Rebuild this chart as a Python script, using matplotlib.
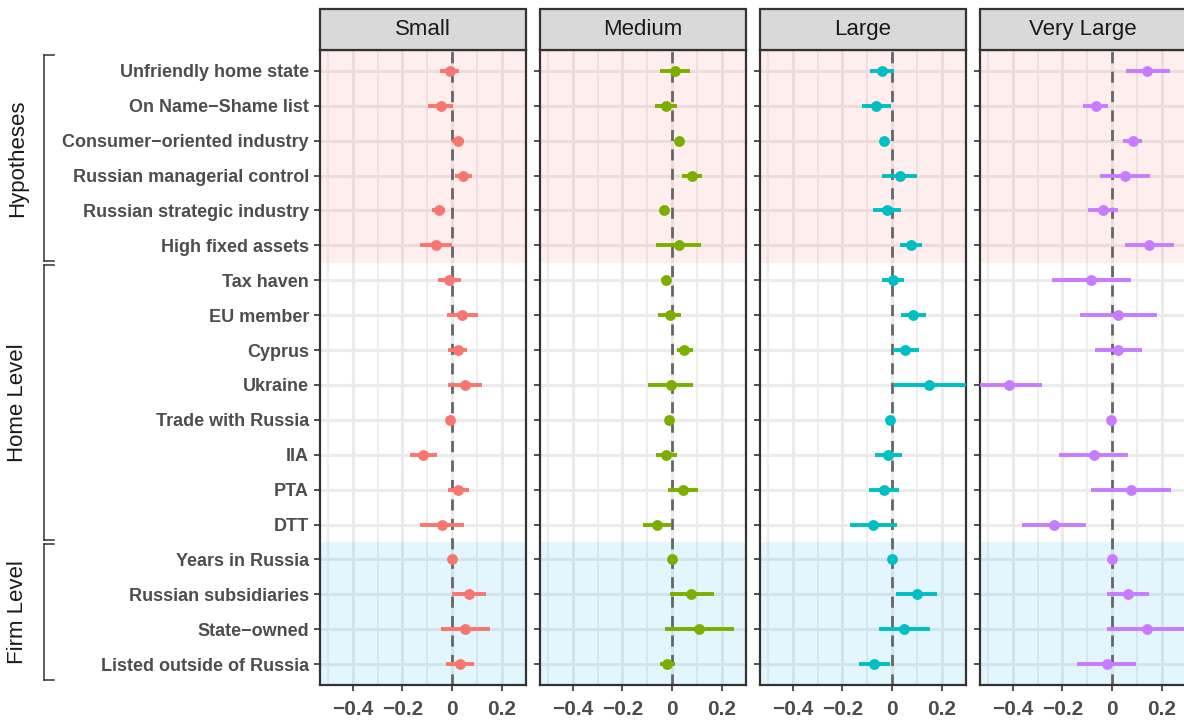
import matplotlib.pyplot as plt
from matplotlib.transforms import blended_transform_factory
from matplotlib.patches import Rectangle
from matplotlib.lines import Line2D

plt.rcParams["font.family"] = ["Liberation Sans", "DejaVu Sans"]

variables = [
    "Unfriendly home state", "On Name\u2212Shame list", "Consumer\u2212oriented industry",
    "Russian managerial control", "Russian strategic industry", "High fixed assets",
    "Tax haven", "EU member", "Cyprus", "Ukraine", "Trade with Russia", "IIA", "PTA", "DTT",
    "Years in Russia", "Russian subsidiaries", "State\u2212owned", "Listed outside of Russia",
]
groups = [("Hypotheses", 0, 5), ("Home Level", 6, 13), ("Firm Level", 14, 17)]
sizes = ["Small", "Medium", "Large", "Very Large"]
colors = ["#F8766D", "#7CAE00", "#00BFC4", "#C77CFF"]

small_est = [-0.009, -0.046, 0.025, 0.045, -0.053, -0.066,
             -0.012, 0.042, 0.024, 0.051, -0.008, -0.116, 0.026, -0.040,
             0.0, 0.069, 0.053, 0.031]
small_lo = [-0.050, -0.097, 0.000, 0.011, -0.081, -0.130,
            -0.058, -0.020, -0.015, -0.016, -0.012, -0.169, -0.016, -0.130,
            0.0, 0.000, -0.045, -0.024]
small_hi = [0.030, 0.004, 0.050, 0.081, -0.027, -0.002,
            0.035, 0.105, 0.062, 0.122, -0.004, -0.062, 0.069, 0.050,
            0.0, 0.138, 0.153, 0.088]

medium_est = [0.011, -0.023, 0.030, 0.080, -0.032, 0.027,
              -0.026, -0.008, 0.050, -0.005, -0.011, -0.024, 0.043, -0.061,
              0.0, 0.078, 0.110, -0.019]
medium_lo = [-0.050, -0.068, 0.026, 0.041, -0.036, -0.065,
             -0.043, -0.056, 0.018, -0.095, -0.015, -0.065, -0.015, -0.118,
             0.0, -0.009, -0.028, -0.050]
medium_hi = [0.073, 0.022, 0.034, 0.122, -0.028, 0.118,
             -0.010, 0.038, 0.083, 0.085, -0.007, 0.018, 0.104, -0.003,
             0.0, 0.169, 0.248, 0.012]

large_est = [-0.042, -0.065, -0.034, 0.031, -0.020, 0.076,
             0.003, 0.084, 0.054, 0.149, -0.008, -0.016, -0.032, -0.076,
             0.0, 0.099, 0.049, -0.073]
large_lo = [-0.088, -0.123, -0.038, -0.041, -0.077, 0.032,
            -0.042, 0.035, 0.004, 0.007, -0.012, -0.070, -0.093, -0.168,
            0.0, 0.015, -0.054, -0.135]
large_hi = [0.006, -0.004, -0.030, 0.101, 0.038, 0.120,
            0.050, 0.135, 0.107, 0.300, -0.004, 0.039, 0.030, 0.018,
            0.0, 0.183, 0.152, -0.009]

vlarge_est = [0.142, -0.064, 0.083, 0.051, -0.035, 0.149,
              -0.084, 0.026, 0.026, -0.414, -0.004, -0.073, 0.077, -0.235,
              0.0, 0.064, 0.140, -0.022]
vlarge_lo = [0.058, -0.116, 0.045, -0.050, -0.097, 0.051,
             -0.242, -0.129, -0.069, -0.560, -0.008, -0.212, -0.084, -0.364,
             0.0, -0.020, -0.019, -0.143]
vlarge_hi = [0.232, -0.016, 0.121, 0.153, 0.026, 0.250,
             0.076, 0.183, 0.121, -0.281, 0.000, 0.065, 0.239, -0.106,
             0.0, 0.148, 0.320, 0.096]

estimates = [small_est, medium_est, large_est, vlarge_est]
lower = [small_lo, medium_lo, large_lo, vlarge_lo]
upper = [small_hi, medium_hi, large_hi, vlarge_hi]

W, H = 1184, 726
fig = plt.figure(figsize=(W / 100, H / 100), dpi=100)

panel_left = [320, 540, 760, 980]
panel_w = 206
panel_top, panel_bot = 50, 685
strip_h = 41
n = len(variables)
rows = list(range(n))

axes = []
for k, size in enumerate(sizes):
    ax = fig.add_axes([panel_left[k] / W, 1 - panel_bot / H,
                       panel_w / W, (panel_bot - panel_top) / H])
    ax.set_xlim(-0.532, 0.298)
    ax.set_ylim(n - 1 + 0.6, -0.6)
    ax.set_axisbelow(True)

    # grid drawn first, group shading laid over it
    ax.set_xticks([-0.4, -0.2, 0, 0.2])
    ax.set_xticks([-0.5, -0.3, -0.1, 0.1], minor=True)
    ax.set_yticks(rows)
    ax.grid(True, which="major", color="#EBEBEB", lw=2.2)
    ax.grid(True, which="minor", axis="x", color="#EBEBEB", lw=1.2)
    ax.axhspan(-0.6, 5.5, color="#F8766D", alpha=0.12, lw=0, zorder=1)
    ax.axhspan(13.5, n - 1 + 0.6, color="#00B0F0", alpha=0.11, lw=0, zorder=1)

    ax.axvline(0, color="#666666", lw=2, ls=(0, (4, 3)), zorder=2)
    ax.hlines(rows, lower[k], upper[k], color=colors[k], lw=2.8, zorder=3)
    ax.plot(estimates[k], rows, "o", color=colors[k], ms=7.8, mec="none", zorder=4)

    ax.set_xticklabels(["\u22120.4", "\u22120.2", "0", "0.2"],
                       fontsize=15, fontweight="bold", color="#4D4D4D")
    if k == 0:
        ax.set_yticklabels(variables, fontsize=13, fontweight="bold", color="#4D4D4D")
    else:
        ax.set_yticklabels([])
    ax.tick_params(axis="both", which="major", length=4, width=1.2, color="#333333", pad=4)
    ax.tick_params(axis="x", which="major", pad=7)
    ax.tick_params(axis="both", which="minor", length=0)
    for sp in ax.spines.values():
        sp.set_color("#333333")
        sp.set_linewidth(1.6)

    # facet strip
    strip = Rectangle((panel_left[k] / W, 1 - panel_top / H), panel_w / W, strip_h / H,
                      transform=fig.transFigure, facecolor="#D9D9D9",
                      edgecolor="#333333", lw=1.6, clip_on=False)
    fig.add_artist(strip)
    fig.text((panel_left[k] + panel_w / 2) / W, 1 - (panel_top - strip_h / 2) / H, size,
             ha="center", va="center", fontsize=16, color="#1A1A1A")
    axes.append(ax)

# group brackets on the left
ax0 = axes[0]
tr = blended_transform_factory(fig.transFigure, ax0.transData)
bx, tick_x = 44 / W, 54 / W
for name, i0, i1 in groups:
    y0, y1 = i0 - 0.45, i1 + 0.45
    for line in ([bx, bx], [y0, y1]), ([bx, tick_x], [y0, y0]), ([bx, tick_x], [y1, y1]):
        fig.add_artist(Line2D(line[0], line[1], transform=tr, color="#333333", lw=1.1))
    fig.text(18 / W, (i0 + i1) / 2, name, transform=tr, rotation=90, ha="center",
             va="center", fontsize=16, color="#1A1A1A")

fig.savefig("out.png", dpi=100)
